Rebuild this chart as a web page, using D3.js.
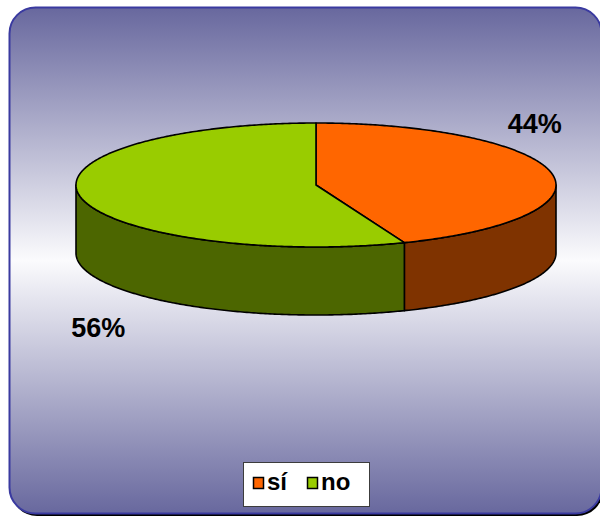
<!DOCTYPE html>
<html>
<head>
<meta charset="utf-8">
<script src="https://cdn.jsdelivr.net/npm/d3@7"></script>
<style>
  html, body { margin: 0; padding: 0; background: #ffffff; }
  svg { display: block; }
  text { font-family: "Liberation Sans", Arial, sans-serif; font-weight: bold; }
</style>
</head>
<body>
<svg id="chart" width="600" height="516"></svg>
<script>
// ---- data ----
const categories = ["sí", "no"];
const values = [44, 56];
const labels = ["44%", "56%"];

// ---- styles ----
const topColors = ["#ff6600", "#99cc00"];
const sideColors = ["#7f3300", "#4c6600"];

const W = 600, H = 516;
const svg = d3.select("#chart");

// background frame
const defs = svg.append("defs");
const grad = defs.append("linearGradient").attr("id", "bg")
  .attr("x1", 0).attr("y1", 0).attr("x2", 0).attr("y2", 1);
grad.append("stop").attr("offset", "0%").attr("stop-color", "#68689e");
grad.append("stop").attr("offset", "50%").attr("stop-color", "#fbfbfd");
grad.append("stop").attr("offset", "100%").attr("stop-color", "#68689e");

svg.append("rect").attr("x", 11).attr("y", 10).attr("width", 592).attr("height", 506)
  .attr("rx", 26).attr("fill", "#000");
svg.append("rect").attr("x", 9.5).attr("y", 7.5).attr("width", 592).attr("height", 506)
  .attr("rx", 26).attr("fill", "url(#bg)").attr("stroke", "#3a3aa0").attr("stroke-width", 2);

// pie geometry
const cx = 316, cy = 185, rx = 240, ry = 62, depth = 68;
const pie = d3.pie().sort(null).value(d => d)(values);

const pt = (a, dy = 0) => [cx + rx * Math.sin(a), cy - ry * Math.cos(a) + dy];
const line = d3.line();
function arcPts(a0, a1, dy = 0) {
  const n = Math.max(2, Math.ceil(Math.abs(a1 - a0) / 0.01));
  return d3.range(n + 1).map(i => pt(a0 + (a1 - a0) * i / n, dy));
}

const g = svg.append("g");

// side walls (front visible range: PI/2 .. 3PI/2)
pie.forEach((s, i) => {
  const a0 = Math.max(s.startAngle, Math.PI / 2);
  const a1 = Math.min(s.endAngle, 3 * Math.PI / 2);
  if (a1 <= a0) return;
  const pts = arcPts(a0, a1).concat(arcPts(a1, a0, depth));
  g.append("path").attr("d", line(pts) + "Z")
    .attr("fill", sideColors[i]).attr("stroke", "#000").attr("stroke-width", 1.6)
    .attr("stroke-linejoin", "round");
});

// top faces
pie.forEach((s, i) => {
  const pts = [[cx, cy]].concat(arcPts(s.startAngle, s.endAngle));
  g.append("path").attr("d", line(pts) + "Z")
    .attr("fill", topColors[i]).attr("stroke", "#000").attr("stroke-width", 1.6)
    .attr("stroke-linejoin", "round");
});

// data labels
const labelOffsets = [[-17, -40], [18, 140]];
pie.forEach((s, i) => {
  const mid = (s.startAngle + s.endAngle) / 2;
  const p = pt(mid);
  svg.append("text")
    .attr("x", p[0] + labelOffsets[i][0]).attr("y", p[1] + labelOffsets[i][1])
    .attr("text-anchor", "middle").attr("font-size", 27).attr("fill", "#000")
    .text(labels[i]);
});

// legend
const lg = svg.append("g");
lg.append("rect").attr("x", 243.5).attr("y", 462.5).attr("width", 126).attr("height", 44)
  .attr("fill", "#fff").attr("stroke", "#3c3c3c").attr("stroke-width", 1);
const itemX = [253, 307];
categories.forEach((c, i) => {
  lg.append("rect").attr("x", itemX[i] + 0.5).attr("y", 477.5).attr("width", 10).attr("height", 11)
    .attr("fill", topColors[i]).attr("stroke", "#000").attr("stroke-width", 1.5);
  lg.append("text").attr("x", itemX[i] + 14).attr("y", 490).attr("font-size", 24)
    .attr("fill", "#000").text(c);
});
</script>
</body>
</html>
